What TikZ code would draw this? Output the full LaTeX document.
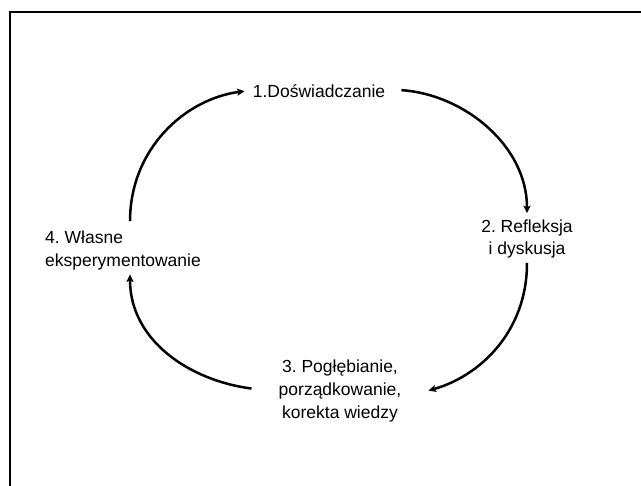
\documentclass[tikz,border=0pt]{standalone}
\usepackage{fontspec}
\setmainfont{Liberation Sans}
\usetikzlibrary{arrows.meta}
\frenchspacing
\begin{document}
\begin{tikzpicture}[x=1pt,y=1pt,
  lbl/.style={inner sep=0pt,font=\fontsize{17.5}{23}\selectfont},
  cyc/.style={line width=2.5pt,-{Stealth[length=7.5pt,width=7pt,inset=1.5pt]}}]
\useasboundingbox (0,0) rectangle (641,486);
\draw[line width=2.2pt] (10,0) -- (10,474) -- (641,474);
\node[lbl,anchor=base] (n1) at (319,388.5) {1.Doświadczanie};
\node[lbl,align=center,anchor=north,font=\fontsize{17.5}{22}\selectfont] (n2) at (527,266.8) {2. Refleksja\\i dyskusja};
\node[lbl,align=center,anchor=north] (n3) at (340,126.8) {3. Pogłębianie,\\porządkowanie,\\korekta wiedzy};
\node[lbl,align=left,anchor=north west] (n4) at (45,255.8) {4. Własne\\eksperymentowanie};
\draw[cyc] ([xshift=16pt,yshift=1pt]n1.east) .. controls +(62,-4) and +(0,68) .. ([yshift=6pt]n2.north);
\draw[cyc] ([yshift=-5pt]n2.south) .. controls +(0,-70) and +(50,14) .. ([xshift=27pt]n3.east);
\draw[cyc] ([xshift=-27pt,yshift=2pt]n3.west) .. controls +(-62,8) and +(0,-66) .. ([xshift=7pt,yshift=-4.5pt]n4.south);
\draw[cyc] ([xshift=7pt,yshift=9pt]n4.north) .. controls +(0,72) and +(-60,-8) .. ([xshift=-8pt]n1.west);
\end{tikzpicture}
\end{document}
